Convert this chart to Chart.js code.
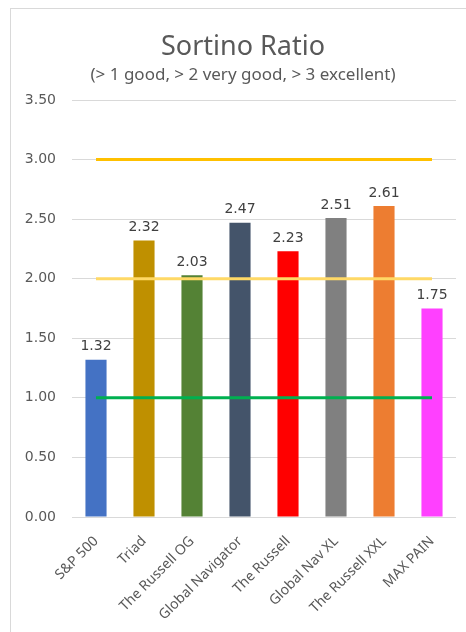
<!DOCTYPE html>
<html>
<head>
<meta charset="utf-8">
<script src="https://cdn.jsdelivr.net/npm/chart.js@4.4.1/dist/chart.umd.min.js"></script>
<style>
  html, body { margin: 0; padding: 0; background: #fff; overflow: hidden; width: 466px; height: 632px; }
  #frame { position: absolute; left: 10px; top: 8px; width: 455px; height: 623px; border-left: 1px solid #d9d9d9; border-top: 1px solid #d9d9d9; }
  #chart { position: absolute; left: 10px; top: 8px; }
</style>
</head>
<body>
<div id="frame"></div>
<canvas id="chart" width="456" height="624"></canvas>
<script>
// ===== DATA =====
const labels = ['S&P 500', 'Triad', 'The Russell OG', 'Global Navigator', 'The Russell', 'Global Nav XL', 'The Russell XXL', 'MAX PAIN'];
const sortino = [1.32, 2.32, 2.03, 2.47, 2.23, 2.51, 2.61, 1.75];
const barColors = ['#4472C4', '#BF9000', '#548235', '#44546A', '#FF0000', '#808080', '#ED7D31', '#FF40FF'];
const lineExcellent = [3, 3, 3, 3, 3, 3, 3, 3];
const lineVeryGood = [2, 2, 2, 2, 2, 2, 2, 2];
const lineGood = [1, 1, 1, 1, 1, 1, 1, 1];
const yTicks = [0, 0.5, 1, 1.5, 2, 2.5, 3, 3.5];
const titleText = 'Sortino Ratio';
const subtitleText = '(> 1 good, > 2 very good, > 3 excellent)';

const FONT = '"Noto Sans", sans-serif';
const NUM_FONT = '"DejaVu Sans", sans-serif';
const GREY = '#595959';

// ===== TITLE (centred on the whole chart box, incl. the frame) =====
const headings = {
  id: 'headings',
  afterDraw(chart) {
    const ctx = chart.ctx;
    ctx.save();
    ctx.fillStyle = GREY;
    ctx.textAlign = 'center';
    ctx.textBaseline = 'middle';
    ctx.font = '27px ' + FONT;
    ctx.fillText(titleText, 233, 39);
    ctx.font = '17px ' + FONT;
    ctx.fillText(subtitleText, 233, 67);
    ctx.restore();
  }
};

// ===== VALUE LABELS ABOVE BARS =====
const barLabels = {
  id: 'barLabels',
  afterDatasetsDraw(chart) {
    const meta = chart.getDatasetMeta(3);
    const ctx = chart.ctx;
    ctx.save();
    ctx.font = '14px ' + NUM_FONT;
    ctx.fillStyle = '#404040';
    ctx.textAlign = 'center';
    ctx.textBaseline = 'bottom';
    meta.data.forEach((bar, i) => {
      ctx.fillText(sortino[i].toFixed(2), bar.x, bar.y - 6);
    });
    ctx.restore();
  }
};

const lineStyle = (data, color) => ({
  type: 'line', data, borderColor: color, borderWidth: 3,
  pointRadius: 0, fill: false, order: 0
});

new Chart(document.getElementById('chart'), {
  type: 'bar',
  data: {
    labels,
    datasets: [
      lineStyle(lineExcellent, '#FFC000'),
      lineStyle(lineVeryGood, '#FFD966'),
      lineStyle(lineGood, '#00B050'),
      { type: 'bar', data: sortino, backgroundColor: barColors, barPercentage: 0.44, categoryPercentage: 1, order: 1 }
    ]
  },
  options: {
    responsive: false,
    animation: false,
    layout: { padding: { top: 92, left: 0, right: 10, bottom: 0 } },
    plugins: {
      legend: { display: false },
      tooltip: { enabled: false },
      title: { display: false }
    },
    scales: {
      x: {
        grid: { display: false },
        border: { display: false },
        ticks: {
          color: GREY, font: { family: FONT, size: 14 },
          minRotation: 45, maxRotation: 45, padding: 8, autoSkip: false
        },
        afterFit(scale) { scale.height = 115; }
      },
      y: {
        min: 0, max: 3.5,
        afterBuildTicks(scale) { scale.ticks = yTicks.map(v => ({ value: v })); },
        grid: { color: '#d9d9d9', lineWidth: 1, drawTicks: false },
        border: { display: false },
        ticks: {
          color: GREY, font: { family: NUM_FONT, size: 14 }, padding: 16,
          callback: v => v.toFixed(2)
        },
        afterFit(scale) { scale.width = 62; }
      }
    }
  },
  plugins: [barLabels, headings]
});
</script>
</body>
</html>
